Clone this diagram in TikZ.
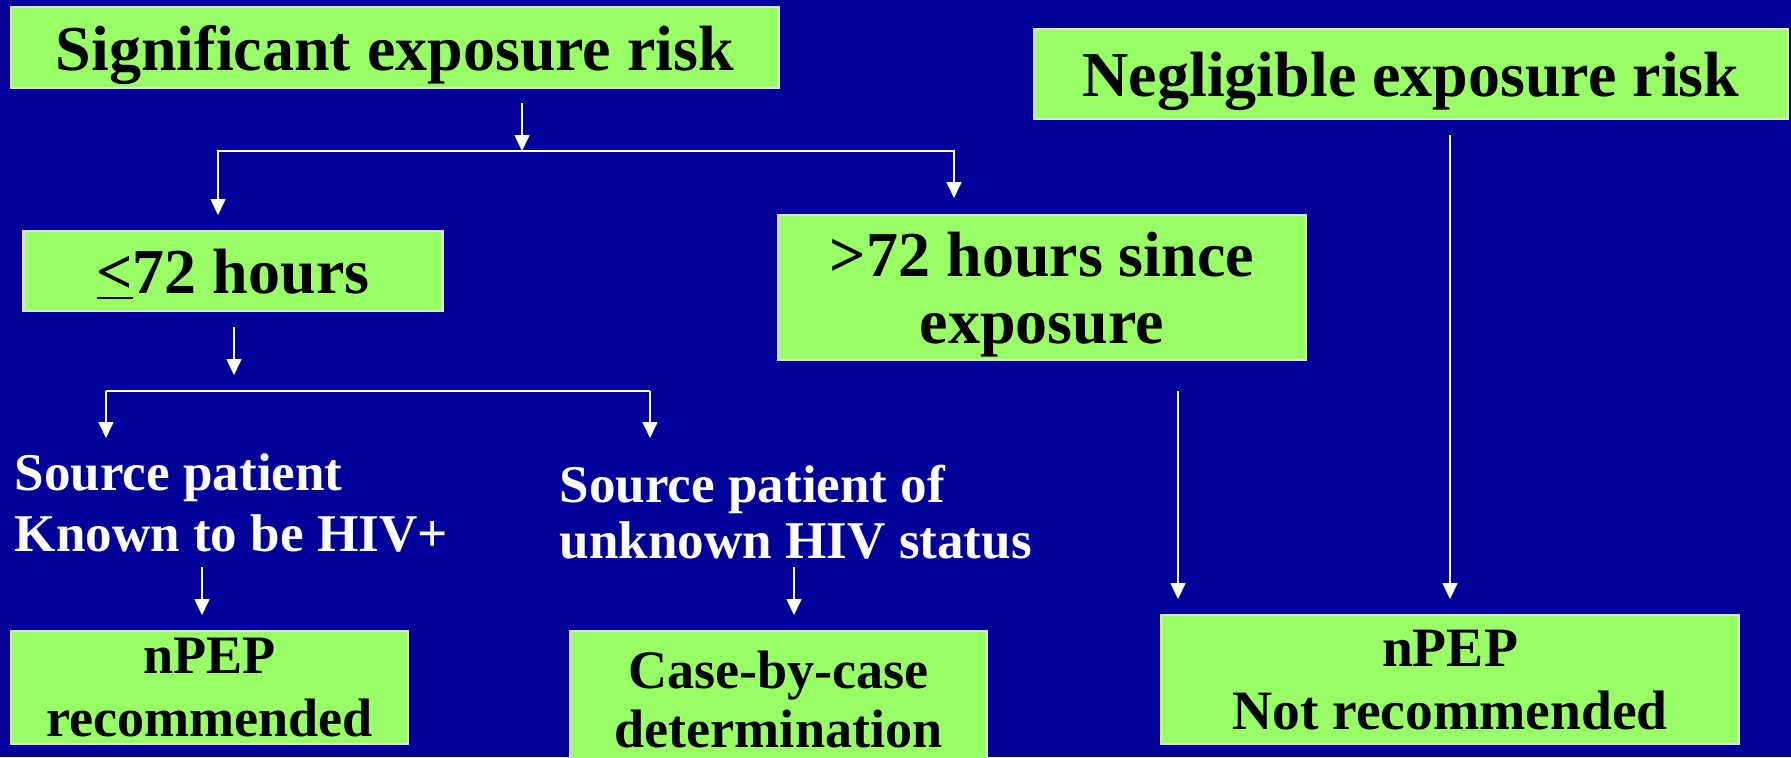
\documentclass[tikz,border=0pt]{standalone}
\usepackage{fontspec}
\setmainfont{Liberation Serif}
\usetikzlibrary{arrows.meta}
\definecolor{slideblue}{HTML}{000099}
\definecolor{boxgreen}{HTML}{99FF66}
\tikzset{
  box/.style={draw=white!88!black, fill=boxgreen, line width=0.7pt, text depth=0pt, align=center, inner sep=0pt},
  arr/.style={white, line width=0.5pt, -{Triangle[length=4.5pt,width=4.2pt]}},
  ln/.style={white, line width=0.5pt},
  big/.style={font=\fontsize{18.2}{19}\selectfont\bfseries},
  note/.style={white, align=left, anchor=west, inner sep=0pt},
}
\begin{document}
\begin{tikzpicture}[x=0.01cm, y=-0.01cm]
\fill[slideblue] (0,0) rectangle (1791,757);
\useasboundingbox (0,0) rectangle (1791,757);

% boxes
\node[box, big, minimum width=7.68cm, minimum height=0.81cm] (sig) at (395,47.5) {Significant exposure risk};
\node[box, big, minimum width=7.54cm, minimum height=0.90cm] (negl) at (1411,74) {Negligible exposure risk};
\node[box, big, minimum width=4.19cm, minimum height=0.80cm] (le72) at (233,271) {\underline{<}72 hours};
\node[box, big, minimum width=5.28cm, minimum height=1.45cm] (gt72) at (1042,287.5) {>72 hours since\\exposure};
\node[box, font=\fontsize{15.4}{17.9}\selectfont\bfseries, minimum width=3.97cm, minimum height=1.13cm] (npep) at (209.5,687.5) {nPEP\\recommended};
\node[box, font=\fontsize{15.4}{16.8}\selectfont\bfseries, minimum width=4.17cm, minimum height=1.37cm] (casebycase) at (778.5,699.5) {Case-by-case\\determination};
\node[box, font=\fontsize{15.8}{17.8}\selectfont\bfseries, minimum width=5.78cm, minimum height=1.29cm] (nonpep) at (1450,679.5) {nPEP\\Not recommended};

% source patient texts
\node[note, font=\fontsize{15.1}{17.6}\selectfont\bfseries] (srcpos) at (14,503) {Source patient\\Known to be HIV+};
\node[note, font=\fontsize{15.1}{15.9}\selectfont\bfseries] (srcunk) at (559,512) {Source patient of\\unknown HIV status};

% arrow ends
\coordinate (sigout) at (522,103);
\coordinate (split1) at (522,151);
\coordinate (le72in) at (218,215);
\coordinate (gt72in) at (954,198);
\coordinate (le72out) at (234,327);
\coordinate (le72end) at (234,375);
\coordinate (hubL) at (106,391);
\coordinate (hubR) at (650,391);
\coordinate (srcposin) at (106,438);
\coordinate (srcunkin) at (650,438);
\coordinate (srcposout) at (202,567);
\coordinate (npepin) at (202,615);
\coordinate (srcunkout) at (794,567);
\coordinate (casein) at (794,615);
\coordinate (gt72out) at (1178,391);
\coordinate (nonpepinL) at (1178,599);
\coordinate (neglout) at (1450,135);
\coordinate (nonpepinR) at (1450,599);

% connectors
\draw[arr] (sigout) -- (split1);
\draw[arr] (split1) -| (le72in);
\draw[arr] (split1) -| (gt72in);
\draw[arr] (le72out) -- (le72end);
\draw[ln] (hubL) -- (hubR);
\draw[arr] (hubL) -- (srcposin);
\draw[arr] (hubR) -- (srcunkin);
\draw[arr] (srcposout) -- (npepin);
\draw[arr] (srcunkout) -- (casein);
\draw[arr] (gt72out) -- (nonpepinL);
\draw[arr] (neglout) -- (nonpepinR);
\end{tikzpicture}
\end{document}
